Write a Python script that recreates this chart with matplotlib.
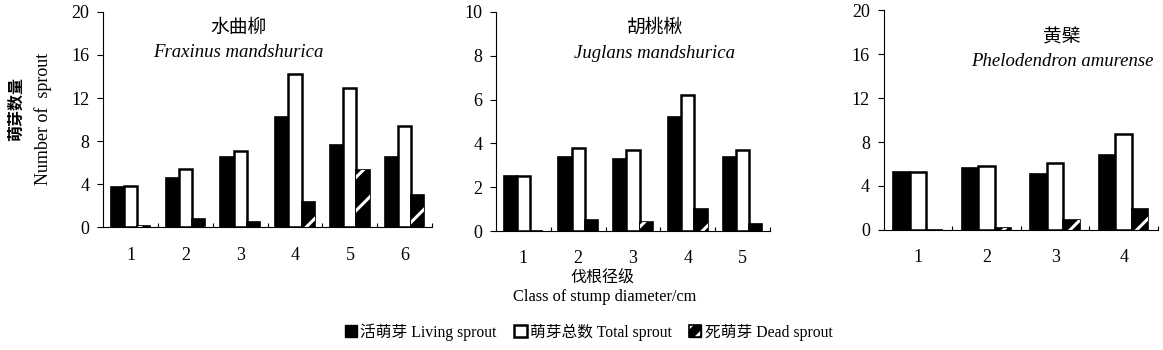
import numpy as np
import matplotlib
matplotlib.use("Agg")
from matplotlib import pyplot as plt
from matplotlib.patches import Patch

plt.rcParams['font.family'] = ['Liberation Serif', 'Noto Sans CJK SC']
plt.rcParams['hatch.linewidth'] = 2.2

# 水曲柳 Fraxinus mandshurica
fm_classes = ['1', '2', '3', '4', '5', '6']
fm_living = [3.7, 4.6, 6.5, 10.2, 7.6, 6.5]
fm_total = [3.8, 5.4, 7.1, 14.2, 12.9, 9.4]
fm_dead = [0.1, 0.8, 0.5, 2.3, 5.3, 3.0]

# 胡桃楸 Juglans mandshurica
jm_classes = ['1', '2', '3', '4', '5']
jm_living = [2.5, 3.4, 3.3, 5.2, 3.4]
jm_total = [2.5, 3.8, 3.7, 6.2, 3.7]
jm_dead = [0.0, 0.5, 0.4, 1.0, 0.3]

# 黄檗 Phelodendron amurense
pa_classes = ['1', '2', '3', '4']
pa_living = [5.3, 5.6, 5.1, 6.8]
pa_total = [5.3, 5.8, 6.1, 8.7]
pa_dead = [0.0, 0.2, 0.9, 1.9]

panels = [
    ('水曲柳', 'Fraxinus mandshurica', fm_classes, fm_living, fm_total, fm_dead,
     20, [0, 4, 8, 12, 16, 20], [0.0886, 0.351, 0.283, 0.615], (0.41, 0.925, 0.81)),
    ('胡桃楸', 'Juglans mandshurica', jm_classes, jm_living, jm_total, jm_dead,
     10, [0, 2, 4, 6, 8, 10], [0.4265, 0.340, 0.2356, 0.626], (0.58, 0.927, 0.81)),
    ('黄檗', 'Phelodendron amurense', pa_classes, pa_living, pa_total, pa_dead,
     20, [0, 4, 8, 12, 16, 20], [0.760, 0.343, 0.2356, 0.628], (0.65, 0.873, 0.765)),
]

fig = plt.figure(figsize=(11.63, 3.5), dpi=100)
w = 0.24

for cn, latin, cls, living, total, dead, ymax, yt, rect, tpos in panels:
    ax = fig.add_axes(rect)
    x = np.arange(1, len(cls) + 1)
    ax.bar(x - w, living, w, color='black', edgecolor='black', linewidth=1.2)
    ax.bar(x, total, w, color='white', edgecolor='black', linewidth=1.8)
    ax.bar(x + w, dead, w, color='black', edgecolor='black', linewidth=1.2)
    ax.bar(x + w, dead, w, color='none', edgecolor='white', hatch='/', linewidth=0)
    ax.set_xlim(0.5, len(cls) + 0.5)
    ax.set_ylim(0, ymax)
    ax.set_yticks(yt)
    ax.set_xticks(x)
    ax.set_xticklabels(cls)
    ax.set_xticks(np.arange(1.5, len(cls) + 0.6, 1), minor=True)
    ax.tick_params(axis='x', which='major', length=0, pad=14, labelsize=13)
    ax.tick_params(axis='x', which='minor', direction='in', length=3, width=0.8)
    ax.tick_params(axis='y', direction='out', length=4, width=0.8, pad=6, labelsize=13)
    ax.spines['top'].set_visible(False)
    ax.spines['right'].set_visible(False)
    ax.spines['left'].set_linewidth(0.8)
    ax.spines['bottom'].set_linewidth(0.8)
    ax.text(tpos[0], tpos[1], cn, transform=ax.transAxes, ha='center', va='center', fontsize=13.5)
    ax.text(tpos[0], tpos[2], latin, transform=ax.transAxes, ha='center', va='center',
            fontsize=13.5, style='italic')

fig.text(0.0145, 0.689, '萌芽数量', rotation=90, ha='center', va='center', fontsize=11.5,
         fontweight='bold')
fig.text(0.037, 0.66, 'Number of  sprout', rotation=90, ha='center', va='center', fontsize=13)
fig.text(0.518, 0.208, '伐根径级', ha='center', va='center', fontsize=11.5)
fig.text(0.52, 0.151, 'Class of stump diameter/cm', ha='center', va='center', fontsize=11.8)

dead_handle = (Patch(facecolor='black', edgecolor='black'),
               Patch(facecolor='none', edgecolor='white', hatch='//', linewidth=0),
               Patch(facecolor='none', edgecolor='black', linewidth=1.2))
handles = [
    Patch(facecolor='black', edgecolor='black'),
    Patch(facecolor='white', edgecolor='black', linewidth=1.8),
    dead_handle,
]
labels = ['活萌芽 Living sprout', '萌芽总数 Total sprout', '死萌芽 Dead sprout']
fig.legend(handles, labels, loc='center', bbox_to_anchor=(0.506, 0.051), ncol=3, frameon=False,
           fontsize=11.3, handlelength=0.8, handleheight=0.8, handletextpad=0.2, columnspacing=1.1)

fig.savefig('out.png', dpi=100)
